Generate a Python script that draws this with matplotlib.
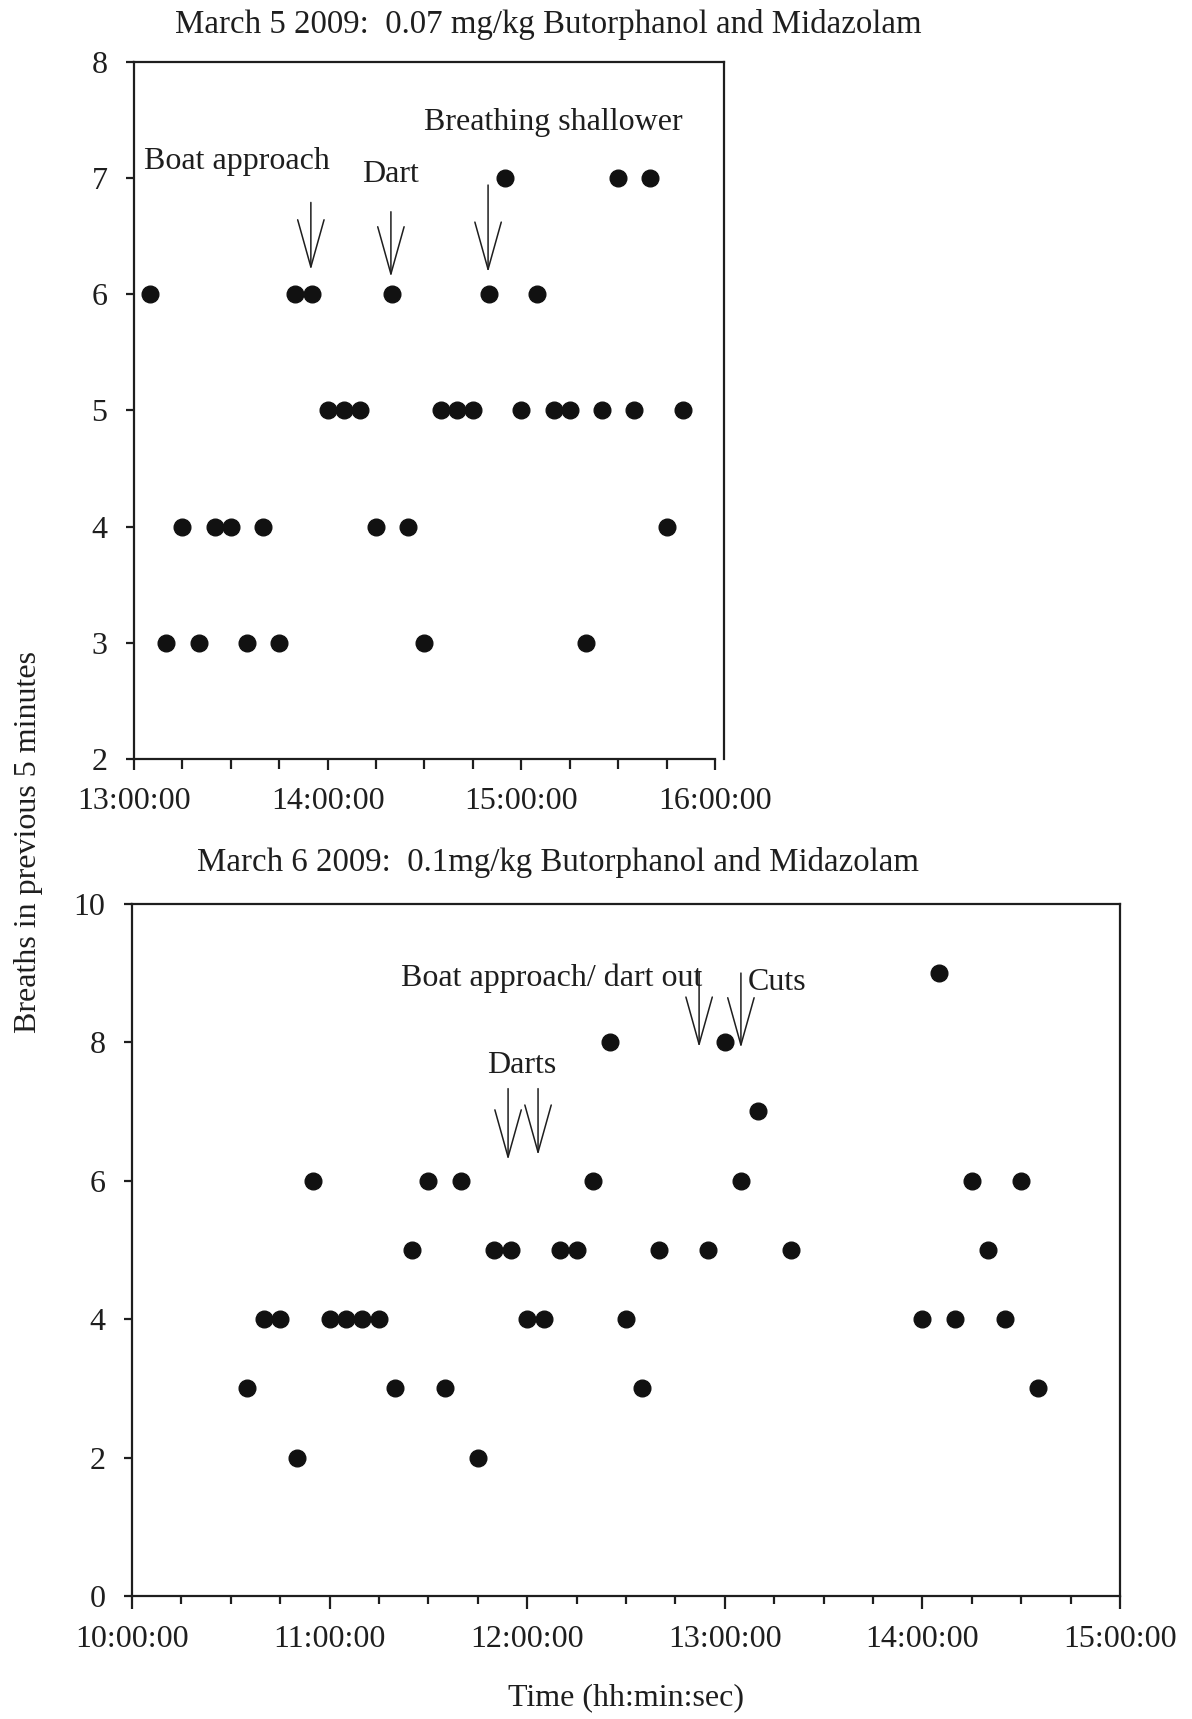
import matplotlib
matplotlib.use("Agg")
import matplotlib.pyplot as plt
from matplotlib.ticker import MultipleLocator, FuncFormatter

plt.rcParams['font.family'] = ['Liberation Serif', 'DejaVu Serif']

# March 5 2009 - breaths counted every 5 minutes
mar5_times = ["13:05", "13:10", "13:15", "13:20", "13:25", "13:30", "13:35", "13:40",
              "13:45", "13:50", "13:55", "14:00", "14:05", "14:10", "14:15", "14:20",
              "14:25", "14:30", "14:35", "14:40", "14:45", "14:50", "14:55", "15:00",
              "15:05", "15:10", "15:15", "15:20", "15:25", "15:30", "15:35", "15:40",
              "15:45", "15:50"]
mar5_breaths = [6, 3, 4, 3, 4, 4, 3, 4, 3, 6, 6, 5, 5, 5, 4, 6, 4, 3, 5, 5, 5, 6, 7, 5,
                6, 5, 5, 3, 5, 7, 5, 7, 4, 5]

# March 6 2009
mar6_times = ["10:35", "10:40", "10:45", "10:50", "10:55", "11:00", "11:05", "11:10",
              "11:15", "11:20", "11:25", "11:30", "11:35", "11:40", "11:45", "11:50",
              "11:55", "12:00", "12:05", "12:10", "12:15", "12:20", "12:25", "12:30",
              "12:35", "12:40", "12:55", "13:00", "13:05", "13:10", "13:20", "14:00",
              "14:05", "14:10", "14:15", "14:20", "14:25", "14:30", "14:35"]
mar6_breaths = [3, 4, 4, 2, 6, 4, 4, 4, 4, 3, 5, 6, 3, 6, 2, 5, 5, 4, 4, 5, 5, 6, 8, 4,
                3, 5, 5, 8, 6, 7, 5, 4, 9, 4, 6, 5, 4, 6, 3]

# event labels and arrows (time, level)
mar5_labels = ["Boat approach", "Dart", "Breathing shallower"]
mar5_label_t = ["13:32", "14:19.6", "15:09.8"]
mar5_label_y = [7.14, 7.03, 7.48]
mar5_arrow_t = ["13:54.8", "14:19.6", "14:49.7"]
mar5_arrow_top = [6.79, 6.71, 6.94]
mar5_arrow_tip = [6.21, 6.15, 6.19]

mar6_labels = ["Boat approach/ dart out", "Cuts", "Darts"]
mar6_label_t = ["12:07.5", "13:15.9", "11:58.4"]
mar6_label_y = [8.93, 8.86, 7.67]
mar6_arrow_t = ["11:54.2", "12:03.3", "12:52.2", "13:04.9"]
mar6_arrow_top = [7.33, 7.33, 9.02, 9.0]
mar6_arrow_tip = [6.30, 6.37, 7.93, 7.92]


def to_hours(s):
    h, m = s.split(":")
    return int(h) + float(m) / 60.0


def hms(x, pos):
    h = int(round(x * 60)) // 60
    m = int(round(x * 60)) % 60
    return "%d:%02d:00" % (h, m)


ink = "#1e1e1e"
fs = 23

fig = plt.figure(figsize=(11.92, 17.19), dpi=100)
ax1 = fig.add_axes([0.1124, 0.5585, 0.495, 0.4055])
ax2 = fig.add_axes([0.1107, 0.0716, 0.8289, 0.4026])


def style(ax, major_len, minor_len):
    for sp in ax.spines.values():
        sp.set_linewidth(1.6)
        sp.set_color(ink)
    ax.xaxis.set_major_locator(MultipleLocator(1))
    ax.xaxis.set_minor_locator(MultipleLocator(0.25))
    ax.xaxis.set_major_formatter(FuncFormatter(hms))
    ax.tick_params(axis="x", which="major", direction="out", length=major_len, width=1.6,
                   color=ink, labelsize=fs, labelcolor=ink, pad=12, top=False)
    ax.tick_params(axis="x", which="minor", direction="out", length=minor_len, width=1.6,
                   color=ink, top=False)
    ax.tick_params(axis="y", which="major", direction="out", length=6, width=1.6,
                   color=ink, labelsize=fs, labelcolor=ink, pad=13, right=False)


def arrows(ax, ts, tops, tips):
    for t, a, b in zip(ts, tops, tips):
        x = to_hours(t)
        ax.annotate("", xy=(x, b), xytext=(x, a),
                    arrowprops=dict(arrowstyle="->,head_length=3.4,head_width=0.95",
                                    mutation_scale=10, lw=1.1, color=ink,
                                    shrinkA=0, shrinkB=0))


# top panel
ax1.plot([to_hours(t) for t in mar5_times], mar5_breaths, "o", ms=12, color="#111111",
         clip_on=False)
ax1.set_xlim(13, 16 + 2.8 / 60)
ax1.set_ylim(2, 8)
ax1.spines["bottom"].set_bounds(13, 16)
style(ax1, 8, 7)
ax1.yaxis.set_major_locator(MultipleLocator(1))
for lab, t, y in zip(mar5_labels, mar5_label_t, mar5_label_y):
    ax1.text(to_hours(t), y, lab, ha="center", va="center", fontsize=fs, color=ink)
arrows(ax1, mar5_arrow_t, mar5_arrow_top, mar5_arrow_tip)

# bottom panel
ax2.plot([to_hours(t) for t in mar6_times], mar6_breaths, "o", ms=12, color="#111111",
         clip_on=False)
ax2.set_xlim(10, 15)
ax2.set_ylim(0, 10)
style(ax2, 9, 6)
ax2.yaxis.set_major_locator(MultipleLocator(2))
for lab, t, y in zip(mar6_labels, mar6_label_t, mar6_label_y):
    ax2.text(to_hours(t), y, lab, ha="center", va="center", fontsize=fs, color=ink)
arrows(ax2, mar6_arrow_t, mar6_arrow_top, mar6_arrow_tip)

fig.text(0.4597, 0.986, "March 5 2009:  0.07 mg/kg Butorphanol and Midazolam",
         ha="center", va="center", fontsize=23.7, color=ink)
fig.text(0.468, 0.4985, "March 6 2009:  0.1mg/kg Butorphanol and Midazolam",
         ha="center", va="center", fontsize=23.7, color=ink)
fig.text(0.0235, 0.51, "Breaths in previous 5 minutes", rotation=90,
         ha="center", va="center", fontsize=fs, color=ink)
fig.text(0.525, 0.0122, "Time (hh:min:sec)", ha="center", va="center",
         fontsize=fs, color=ink)

fig.savefig("out.png", dpi=100, facecolor="white")
